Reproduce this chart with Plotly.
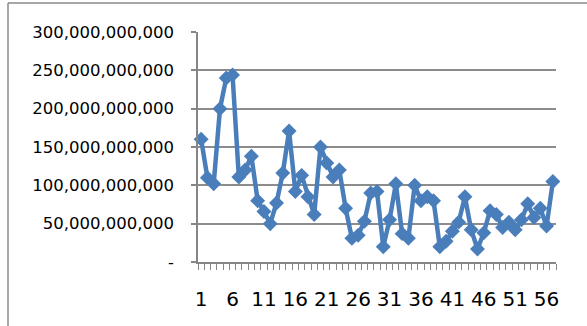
import plotly.graph_objects as go

# Category index (1..57) and the series value for each category, in billions
periods = list(range(1, 58))
values_bn = [
    160, 110, 102, 200, 240, 244, 111, 120, 138, 80,
    66, 50, 77, 116, 171, 92, 113, 85, 62, 150,
    129, 111, 120, 70, 31, 35, 53, 90, 92, 20,
    55, 102, 37, 31, 100, 80, 85, 80, 20, 27,
    40, 52, 85, 42, 17, 38, 67, 62, 45, 52,
    42, 55, 76, 58, 70, 47, 105,
]
values = [v * 1e9 for v in values_bn]

# Axis labelling
x_tick_vals = list(range(1, 58, 5))
x_tick_text = [str(v) for v in x_tick_vals]
y_tick_vals = [0, 50e9, 100e9, 150e9, 200e9, 250e9, 300e9]
y_tick_text = ["-", "50,000,000,000", "100,000,000,000", "150,000,000,000",
               "200,000,000,000", "250,000,000,000", "300,000,000,000"]

LINE_BLUE = "#4a7ebb"
GRID = "#8c8c8c"
AXIS = "#868686"

fig = go.Figure(
    go.Scatter(
        x=periods,
        y=values,
        mode="lines+markers",
        line=dict(color=LINE_BLUE, width=4.5),
        marker=dict(symbol="diamond", size=11.5, color=LINE_BLUE,
                    line=dict(width=0)),
        cliponaxis=False,
        hoverinfo="x+y",
    )
)

# Plot area geometry in pixels (used for the outer frame lines)
W, H = 587, 326
L, R, T, B = 198, 31, 32, 64
pw, ph = W - L - R, H - T - B


def px_x(x):
    return (x - L) / pw


def px_y(y):
    return (H - B - y) / ph


frame = dict(color="#8a8a8a", width=1.5)
fig.add_shape(type="line", xref="paper", yref="paper",
              x0=px_x(8), x1=px_x(8), y0=px_y(3), y1=px_y(H + 5), line=frame)
fig.add_shape(type="line", xref="paper", yref="paper",
              x0=px_x(8), x1=px_x(W + 5), y0=px_y(3), y1=px_y(3), line=frame)

fig.update_layout(
    width=W,
    height=H,
    margin=dict(l=L, r=R, t=T, b=B, pad=0),
    paper_bgcolor="white",
    plot_bgcolor="white",
    showlegend=False,
    font=dict(family="DejaVu Sans", color="#000000"),
    xaxis=dict(
        range=[0.5, 57.5],
        tickmode="array",
        tickvals=x_tick_vals,
        ticktext=x_tick_text,
        ticks="",
        tickfont=dict(size=20, family="DejaVu Sans", color="#000000"),
        ticklabelstandoff=18,
        showgrid=False,
        zeroline=False,
        showline=True,
        linecolor=AXIS,
        linewidth=1.5,
        minor=dict(tickmode="linear", tick0=0.5, dtick=1, ticks="outside",
                   ticklen=6, tickwidth=1, tickcolor=AXIS, showgrid=False),
    ),
    yaxis=dict(
        range=[0, 300e9],
        tickmode="array",
        tickvals=y_tick_vals,
        ticktext=y_tick_text,
        ticks="outside",
        ticklen=5,
        tickwidth=1.5,
        tickcolor=AXIS,
        tickfont=dict(size=16.5, family="DejaVu Sans", color="#000000"),
        ticklabelstandoff=14,
        showgrid=True,
        gridcolor=GRID,
        gridwidth=1.5,
        zeroline=False,
        showline=True,
        linecolor=AXIS,
        linewidth=1.5,
    ),
)

fig.write_html("out.html")
